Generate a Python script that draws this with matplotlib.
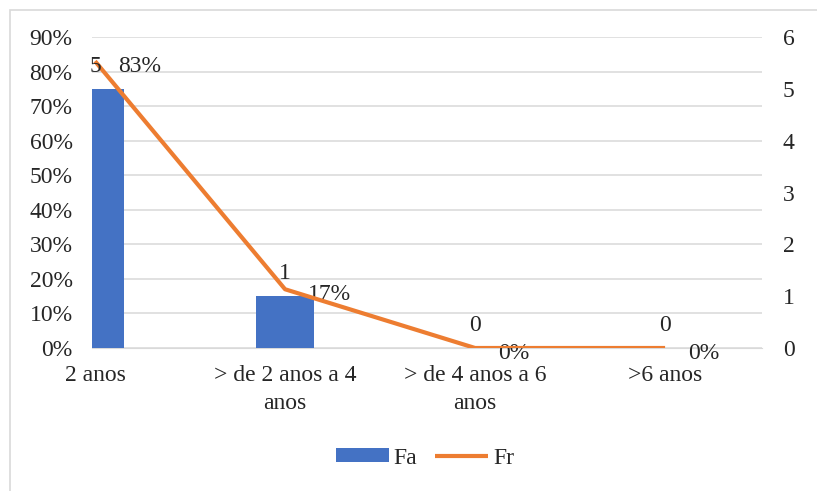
# import statements
import numpy as np
import matplotlib
matplotlib.use("Agg")
import matplotlib.pyplot as plt
from matplotlib.ticker import PercentFormatter
from matplotlib.patches import Rectangle
###########################
# data

categories = ["2 anos", "> de 2 anos a 4\nanos", "> de 4 anos a 6\nanos", ">6 anos"]
fa = [5, 1, 0, 0]                    # absolute frequency (right axis, bars)
fr = [0.83, 0.17, 0.0, 0.0]          # relative frequency (left axis, line)
fr_labels = ["83%", "17%", "0%", "0%"]

###########################
# style
plt.rcParams["font.family"] = ["Liberation Serif", "DejaVu Serif"]
plt.rcParams["font.size"] = 17
blue = "#4472C4"
orange = "#ED7D31"
grid_gray = "#D9D9D9"
text_col = "#262626"

W, H, DPI = 817, 491, 100
fig = plt.figure(figsize=(W / DPI, H / DPI), dpi=DPI)

# light chart border (only left and top visible in the reference)
fig.patches.append(Rectangle((10 / W, -0.1), 1.2, 1.1 - 10 / H, transform=fig.transFigure,
                             fill=False, edgecolor=grid_gray, linewidth=1.2))

# plot area in pixels: x 92..762, y 37..348
left, right, top, bottom = 92, 762, 37, 348
rect = [left / W, 1 - bottom / H, (right - left) / W, (bottom - top) / H]

# ax_pct: left % axis, only gridlines + tick labels
ax_pct = fig.add_axes(rect)
# ax_cnt: right count axis, bars + line on top
ax_cnt = ax_pct.twinx()

x = np.arange(len(categories))
xlim = (-0.016, 3.51)

ax_pct.set_xlim(*xlim)
ax_pct.set_ylim(0, 0.9)
ax_pct.set_yticks(np.arange(0, 0.91, 0.1))
ax_pct.yaxis.set_major_formatter(PercentFormatter(1.0, decimals=0))
ax_pct.grid(axis="y", color=grid_gray, linewidth=1.1)
ax_pct.set_axisbelow(True)

ax_cnt.set_xlim(*xlim)
ax_cnt.set_ylim(0, 6)
ax_cnt.set_yticks(range(0, 7))

# bars (Fa)
ax_cnt.bar(x, fa, width=0.305, color=blue, label="Fa", zorder=2)
# line (Fr) drawn in the % axis scale, but on top of the bars
line, = ax_cnt.plot(x, fr, color=orange, linewidth=3, solid_capstyle="butt",
                    transform=ax_pct.transData, label="Fr", zorder=3)
ax_cnt.set_ylim(0, 6)

# data labels
for xi, v in zip(x, fa):
    ax_cnt.annotate(str(v), (xi, v), xytext=(0, 16), textcoords="offset points",
                    ha="center", va="center", color=text_col, annotation_clip=False)
for xi, v, lab in zip(x, fr, fr_labels):
    ax_pct.annotate(lab, (xi, v), xytext=(16.5, -3.8), textcoords="offset points",
                    ha="left", va="center", color=text_col, annotation_clip=False,
                    zorder=5)

# axes cosmetics
for a in (ax_pct, ax_cnt):
    for s in a.spines.values():
        s.set_visible(False)
ax_pct.spines["bottom"].set_visible(True)
ax_pct.spines["bottom"].set_color(grid_gray)

ax_pct.set_xticks(x)
ax_pct.set_xticklabels(categories, color=text_col, linespacing=1.45)
ax_pct.tick_params(axis="x", length=0, pad=12)
ax_pct.tick_params(axis="y", length=0, pad=14, labelcolor=text_col)
ax_cnt.tick_params(axis="y", length=0, pad=15, labelcolor=text_col)

# legend
handles = [ax_cnt.patches[0], line]
fig.legend(handles, ["Fa", "Fr"], loc="center", bbox_to_anchor=(425 / W, 1 - 458 / H),
           ncol=2, frameon=False, handlelength=2.25, handleheight=0.5,
           handletextpad=0.2, columnspacing=0.75, labelcolor=text_col)

fig.savefig("out.png", dpi=DPI)
